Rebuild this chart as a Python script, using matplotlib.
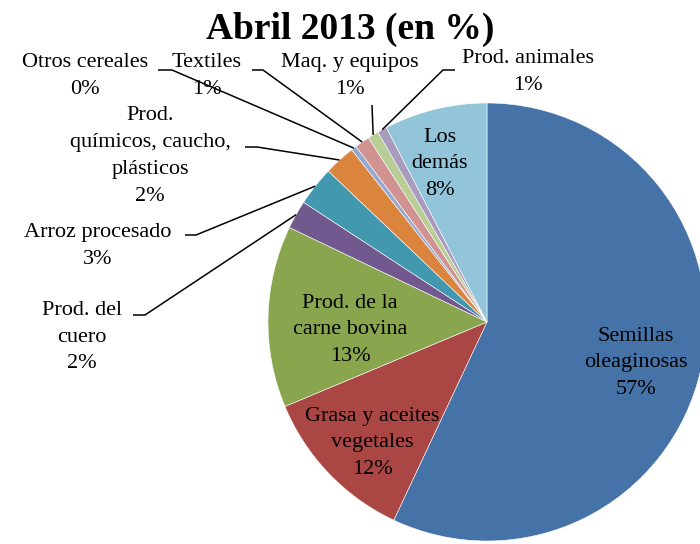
import numpy as np
import matplotlib
matplotlib.use("Agg")
from matplotlib import pyplot as plt

plt.rcParams['font.family'] = ['Liberation Serif', 'DejaVu Serif']

# data, clockwise from 12 o'clock
labels = ['Semillas\noleaginosas', 'Grasa y aceites\nvegetales', 'Prod. de la\ncarne bovina',
          'Prod. del\ncuero', 'Arroz procesado', 'Prod.\nquímicos, caucho,\nplásticos',
          'Otros cereales', 'Textiles', 'Maq. y equipos', 'Prod. animales', 'Los\ndemás']
values = [57.0, 11.7, 13.4, 2.1, 2.9, 2.3, 0.4, 1.1, 0.8, 0.7, 7.6]
colors = ['#4572A7', '#AA4643', '#89A54E', '#71588F', '#4198AF', '#DB843D',
          '#93A9CF', '#D19392', '#B9CD96', '#A99BBD', '#92C5D9']

W, H = 700, 544
fig = plt.figure(figsize=(7, 5.44), dpi=100)
ax = fig.add_axes([0, 0, 1, 1])

cx, cy, r = 487, H - 322, 219
wedges, _ = ax.pie(values, colors=colors, startangle=90, counterclock=False,
                   center=(cx, cy), radius=r,
                   wedgeprops=dict(edgecolor='white', linewidth=0.4))
ax.set_xlim(0, W)
ax.set_ylim(0, H)
ax.set_aspect('equal')
ax.axis('off')

# label centre (pixel coords, y down), and leader: elbow points or None for inside labels
pos = [(636, 363), (372, 443), (350, 330), (82, 337), (98, 246), (150, 156),
       (85, 76), (207, 76), (350, 76), (528, 72), (440, 164)]
leaders = [None, None, None,
           [(133, 315), (145, 315)],
           [(185, 235), (196, 235)],
           [(245, 147), (257, 147)],
           [(158, 70), (172, 70)],
           [(252, 70), (263, 70)],
           [(372, 105)],
           [(455, 70), (443, 70)],
           None]

for w, lab, v, (x, y), ld in zip(wedges, labels, values, pos, leaders):
    ax.text(x, H - y, '%s\n%d%%' % (lab, round(v)), ha='center', va='center',
            fontsize=16, linespacing=1.55, color='black')
    if ld is not None:
        ang = np.deg2rad((w.theta1 + w.theta2) / 2)
        ex, ey = cx + r * np.cos(ang), cy + r * np.sin(ang)
        xs = [p[0] for p in ld] + [ex]
        ys = [H - p[1] for p in ld] + [ey]
        ax.plot(xs, ys, color='black', lw=1.1, solid_capstyle='butt')

ax.text(350, H - 29, 'Abril 2013 (en %)', ha='center', va='center',
        fontsize=27, fontweight='bold')

fig.savefig('out.png', dpi=100)
